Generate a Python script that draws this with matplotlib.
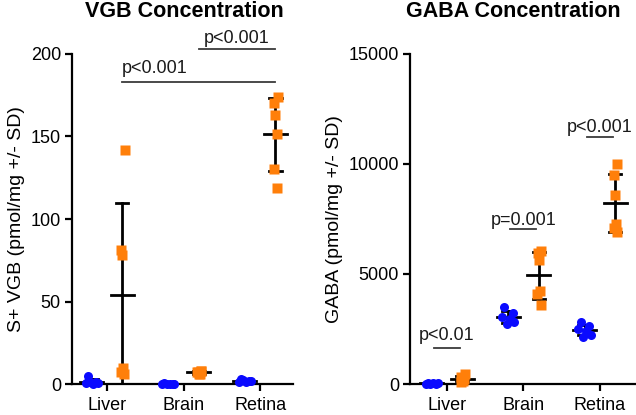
import numpy as np
import matplotlib
matplotlib.use("Agg")
import matplotlib.pyplot as plt

plt.rcParams["font.family"] = ["Liberation Sans", "DejaVu Sans"]

# ── data ────────────────────────────────────────────────────────────────
tissues = ["Liver", "Brain", "Retina"]

vgb_blue = [
    [5, 1.5, 0.5, 0, 0.5, 1],
    [0.5, 0, 0, 0.3, 0, 0.2],
    [3, 2, 1.5, 1, 2, 2.5],
]
vgb_orange = [
    [142, 81, 78, 10, 7, 6],
    [8, 7, 6, 6, 7, 8],
    [174, 170, 163, 151.5, 130, 119],
]

gaba_blue = [
    [30, 20, 10, 40, 30, 20],
    [3500, 3250, 3050, 2950, 2800, 2750],
    [2800, 2650, 2500, 2400, 2250, 2150],
]
gaba_orange = [
    [450, 300, 200, 150, 100, 250],
    [6050, 5950, 5650, 4250, 4100, 3600],
    [10000, 9500, 8600, 7250, 7100, 6900],
]

vgb_sig = [("p<0.001", 0, 2, 183, 188.5, "left"),
           ("p<0.001", 1, 2, 203, 206.5, "center")]
gaba_sig = [("p<0.01", 0, 0, 1636, 2000, "center"),
            ("p=0.001", 1, 1, 7045, 7230, "center"),
            ("p<0.001", 2, 2, 11230, 11450, "center")]

BLUE = "#0a0aff"
ORANGE = "#ff7f0a"
OFF = 0.2
JIT_B = np.array([-0.05, 0.06, -0.08, 0.02, 0.08, -0.02])
JIT_O = np.array([0.06, -0.03, 0.0, 0.03, -0.04, 0.05])

W, H = 636, 415
fig = plt.figure(figsize=(W / 100, H / 100), dpi=100)


def make_ax(x0, x1, y0, y1, xlim):
    ax = fig.add_axes([x0 / W, (H - y1) / H, (x1 - x0) / W, (y1 - y0) / H])
    ax.set_xlim(*xlim)
    for s in ("top", "right"):
        ax.spines[s].set_visible(False)
    for s in ("left", "bottom"):
        ax.spines[s].set_linewidth(1.6)
    ax.tick_params(width=1.6, length=5, labelsize=13, pad=3)
    ax.tick_params(axis="x", pad=4)
    ax.set_xticks(range(3))
    ax.set_xticklabels(tissues)
    return ax


def draw_group(ax, x, vals, color, marker, ms, jit):
    vals = np.asarray(vals, float)
    m, sd = vals.mean(), vals.std(ddof=1)
    ax.plot([x, x], [m - sd, m + sd], color="black", lw=2, zorder=2)
    ax.plot([x - 0.08, x + 0.08], [m + sd] * 2, color="black", lw=2, zorder=2)
    ax.plot([x - 0.08, x + 0.08], [m - sd] * 2, color="black", lw=2, zorder=2)
    ax.plot([x - 0.15, x + 0.15], [m, m], color="black", lw=2, zorder=2)
    ax.plot(x + jit, vals, ls="none", marker=marker, ms=ms, color=color,
            mec="none", zorder=3, clip_on=False)


def draw_panel(ax, blue, orange, sig):
    for i in range(3):
        draw_group(ax, i - OFF, blue[i], BLUE, "o", 6.5, JIT_B)
        draw_group(ax, i + OFF, orange[i], ORANGE, "s", 6.5, JIT_O * 0.5)
    for txt, a, b, ybar, ytxt, ha in sig:
        if a == b:
            xa, xb = a - 0.17, a + 0.17
        else:
            xa, xb = a + OFF, b + OFF
        ax.plot([xa, xb], [ybar, ybar], color="#3a3a3a", lw=1.3, clip_on=False)
        xt = xa if ha == "left" else (xa + xb) / 2
        ax.text(xt, ytxt, txt, ha=ha, va="baseline", fontsize=13,
                color="#1a1a1a", clip_on=False)


# ── Left: VGB ───────────────────────────────────────────────────────────
ax1 = make_ax(72, 293, 54, 384, (-0.457, 2.43))
ax1.set_ylim(0, 200)
ax1.set_yticks([0, 50, 100, 150, 200])
ax1.set_ylabel("S+ VGB (pmol/mg +/- SD)", fontsize=14, labelpad=4)
draw_panel(ax1, vgb_blue, vgb_orange, vgb_sig)
fig.text(184 / W, 1 - 17 / H, "VGB Concentration", ha="center",
         va="baseline", fontsize=15.5, fontweight="bold")

# ── Right: GABA ─────────────────────────────────────────────────────────
ax2 = make_ax(410, 635, 54, 384, (-0.484, 2.46))
ax2.set_ylim(0, 15000)
ax2.set_yticks([0, 5000, 10000, 15000])
ax2.set_ylabel("GABA (pmol/mg +/- SD)", fontsize=14, labelpad=4)
draw_panel(ax2, gaba_blue, gaba_orange, gaba_sig)
fig.text(513 / W, 1 - 17 / H, "GABA Concentration", ha="center",
         va="baseline", fontsize=15.5, fontweight="bold")

fig.savefig("out.png", dpi=100)
